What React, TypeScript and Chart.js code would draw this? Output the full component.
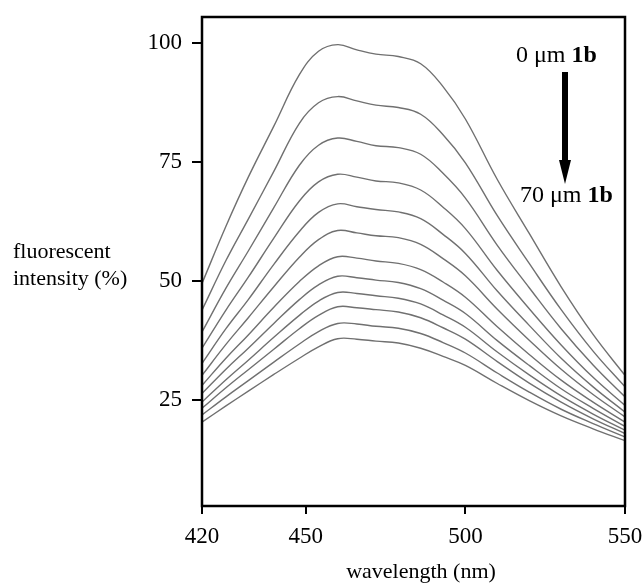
import React, { useEffect, useRef } from "react";
import { Chart, registerables } from "chart.js";

Chart.register(...registerables);

const WAVELENGTHS = [417.5, 425, 432, 440, 448, 454, 460, 466, 472, 479, 486, 493, 500, 510, 520, 530, 540, 550];
const X_TICKS = [417.5, 450, 500, 550];
const X_TICK_LABELS = ["420", "450", "500", "550"];
const Y_TICKS = [25, 50, 75, 100];

const S1 = [49.5, 61.5, 71.8, 82.5, 93.3, 98.2, 99.6, 98.5, 97.6, 97.1, 95.6, 90.8, 84.0, 71.3, 60.0, 48.8, 38.8, 30.2];
const S2 = [43.9, 54.3, 63.0, 73.0, 83.1, 87.4, 88.7, 87.8, 86.9, 86.4, 85.0, 80.7, 74.8, 63.7, 53.7, 44.0, 35.3, 27.8];
const S3 = [39.3, 48.5, 56.3, 65.4, 74.3, 78.5, 80.0, 79.3, 78.4, 78.0, 76.6, 72.6, 67.4, 57.5, 48.6, 40.0, 32.4, 25.7];
const S4 = [35.9, 43.9, 50.8, 59.0, 66.8, 70.8, 72.4, 71.8, 71.0, 70.6, 69.1, 65.5, 61.0, 52.2, 44.2, 36.6, 29.8, 23.9];
const S5 = [32.7, 40.0, 46.1, 53.5, 60.4, 64.4, 66.2, 65.6, 65.0, 64.5, 63.1, 59.8, 55.8, 47.9, 40.7, 33.8, 27.8, 22.5];
const S6 = [30.2, 36.7, 42.3, 48.8, 55.0, 58.7, 60.6, 60.1, 59.5, 59.1, 57.7, 54.7, 51.1, 44.1, 37.6, 31.5, 26.2, 21.5];
const S7 = [28.1, 33.8, 38.7, 44.5, 49.9, 53.2, 55.1, 54.8, 54.2, 53.7, 52.4, 49.8, 46.6, 40.4, 34.6, 29.2, 24.6, 20.4];
const S8 = [26.4, 31.5, 35.9, 41.1, 46.1, 49.2, 51.0, 50.7, 50.2, 49.7, 48.4, 46.0, 43.2, 37.5, 32.3, 27.4, 23.3, 19.5];
const S9 = [24.6, 29.3, 33.4, 38.2, 42.8, 45.8, 47.6, 47.4, 46.9, 46.4, 45.2, 42.9, 40.3, 35.1, 30.3, 25.9, 22.1, 18.7];
const S10 = [23.3, 27.6, 31.4, 35.7, 40.0, 42.8, 44.6, 44.4, 44.0, 43.5, 42.3, 40.2, 37.8, 33.1, 28.6, 24.6, 21.1, 18.0];
const S11 = [21.9, 25.7, 29.1, 33.0, 36.8, 39.4, 41.1, 41.0, 40.5, 40.1, 39.0, 37.1, 34.9, 30.7, 26.7, 23.1, 20.1, 17.3];
const S12 = [20.4, 23.8, 26.9, 30.4, 33.8, 36.2, 37.9, 37.8, 37.4, 37.0, 35.9, 34.2, 32.3, 28.5, 24.9, 21.7, 19.0, 16.5];

const SERIES = [S1, S2, S3, S4, S5, S6, S7, S8, S9, S10, S11, S12];

const FONT = "'Liberation Serif', 'Times New Roman', serif";

const overlayPlugin = {
  id: "overlay",
  afterDraw(chart: any) {
    const { ctx, chartArea } = chart;
    const { left, right, top, bottom } = chartArea;
    ctx.save();
    ctx.strokeStyle = "#000";
    ctx.lineWidth = 2.5;
    ctx.strokeRect(left, top, right - left, bottom - top);

    ctx.fillStyle = "#000";
    ctx.font = `22px ${FONT}`;
    ctx.textAlign = "center";
    ctx.textBaseline = "middle";
    ctx.fillText("wavelength (nm)", 421, 572);
    ctx.textAlign = "left";
    ctx.fillText("fluorescent", 13, 252);
    ctx.fillText("intensity (%)", 13, 279);

    const drawMixed = (x: number, y: number, normal: string, bold: string) => {
      ctx.textAlign = "left";
      ctx.textBaseline = "middle";
      ctx.font = `24px ${FONT}`;
      ctx.fillText(normal, x, y);
      const w = ctx.measureText(normal).width;
      ctx.font = `bold 24px ${FONT}`;
      ctx.fillText(bold, x + w, y);
    };
    drawMixed(516, 56, "0 \u03bcm ", "1b");
    drawMixed(520, 196, "70 \u03bcm ", "1b");

    const ax = 565;
    ctx.beginPath();
    ctx.rect(ax - 3, 72, 6, 89);
    ctx.fill();
    ctx.beginPath();
    ctx.moveTo(ax - 6, 160);
    ctx.lineTo(ax + 6, 160);
    ctx.lineTo(ax, 184);
    ctx.closePath();
    ctx.fill();
    ctx.restore();
  },
};

export default function App() {
  const ref = useRef<HTMLCanvasElement | null>(null);

  useEffect(() => {
    document.body.style.margin = "0";
    const canvas = ref.current;
    if (!canvas) return;
    const chart = new Chart(canvas, {
      type: "line",
      data: {
        datasets: SERIES.map((s, i) => ({
          label: `series ${i + 1}`,
          data: WAVELENGTHS.map((x, j) => ({ x, y: s[j] })),
          borderColor: "#707070",
          borderWidth: 1.4,
          pointRadius: 0,
          fill: false,
          tension: 0.4,
        })),
      },
      options: {
        responsive: false,
        animation: false,
        layout: { padding: { left: 0, top: 17, right: 18, bottom: 0 } },
        plugins: { legend: { display: false }, tooltip: { enabled: false } },
        scales: {
          x: {
            type: "linear",
            min: 417.5,
            max: 550,
            afterBuildTicks: (scale: any) => {
              scale.ticks = X_TICKS.map((v) => ({ value: v }));
            },
            afterFit: (scale: any) => {
              scale.height = 78;
              scale.paddingLeft = 0;
              scale.paddingRight = 0;
            },
            grid: { drawOnChartArea: false, drawTicks: true, tickLength: 8, color: "#000", lineWidth: 2 },
            border: { display: false },
            ticks: {
              autoSkip: false,
              maxRotation: 0,
              padding: 9,
              color: "#000",
              font: { family: FONT, size: 23 },
              callback: (v: any) => {
                const i = X_TICKS.indexOf(Number(v));
                return i >= 0 ? X_TICK_LABELS[i] : "";
              },
            },
          },
          y: {
            type: "linear",
            min: 2.8,
            max: 105.4,
            afterBuildTicks: (scale: any) => {
              scale.ticks = Y_TICKS.map((v) => ({ value: v }));
            },
            afterFit: (scale: any) => {
              scale.width = 202;
              scale.paddingTop = 0;
              scale.paddingBottom = 0;
            },
            grid: { drawOnChartArea: false, drawTicks: true, tickLength: 10, color: "#000", lineWidth: 2 },
            border: { display: false },
            ticks: {
              autoSkip: false,
              padding: 10,
              color: "#000",
              font: { family: FONT, size: 23 },
              callback: (v: any) => String(v),
            },
          },
        },
      },
      plugins: [overlayPlugin],
    });
    return () => chart.destroy();
  }, []);

  return (
    <div style={{ width: 643, height: 584, background: "#fff" }}>
      <canvas ref={ref} width={643} height={584} style={{ display: "block" }} />
    </div>
  );
}
